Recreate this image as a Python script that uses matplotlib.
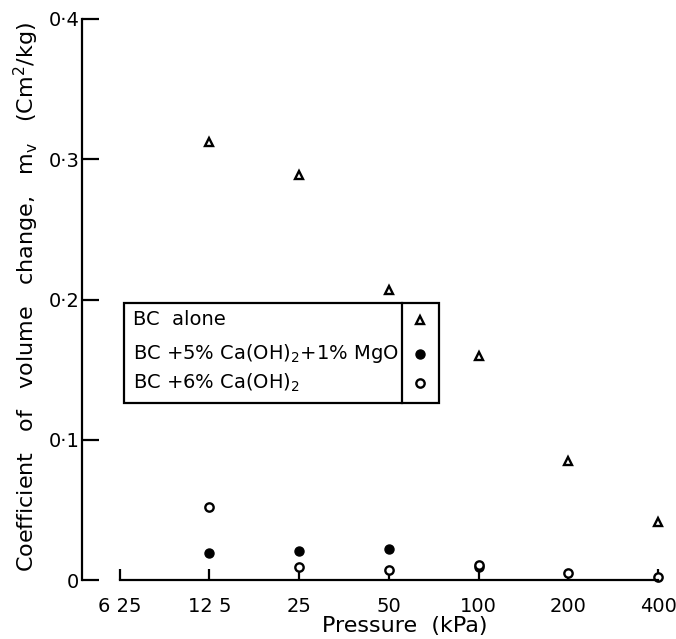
#! /usr/bin/env python3

import matplotlib
matplotlib.use('Agg')
from matplotlib import pyplot as plt
from matplotlib.patches import Rectangle

# pressure steps (kPa), plotted at equal spacing (doubling scale)
pressures = [6.25, 12.5, 25, 50, 100, 200, 400]
tick_labels = ['6 25', '12 5', '25', '50', '100', '200', '400']

# coefficient of volume change (cm^2/kg)
bc_x = [12.5, 25, 50, 100, 200, 400]
bc_alone = [0.312, 0.289, 0.207, 0.160, 0.085, 0.041]

lime_mgo_x = [12.5, 25, 50, 100]
lime_mgo = [0.019, 0.021, 0.022, 0.009]

lime_x = [12.5, 25, 50, 100, 200, 400]
lime = [0.052, 0.009, 0.007, 0.011, 0.005, 0.002]

legend_labels = ['BC  alone',
                 r'BC +5% Ca(OH)$_\mathregular{2}$+1% MgO',
                 r'BC +6% Ca(OH)$_\mathregular{2}$']

plt.rcParams['font.family'] = ['DejaVu Sans']
plt.rcParams['font.size'] = 14

fig = plt.figure(figsize=(6.76, 6.39), dpi=100)
W, H = 676, 639
ax = fig.add_axes([82 / W, 1 - 580 / H, 585 / W, 561 / H])


def pos(vals):
    return [pressures.index(v) for v in vals]


ax.plot(pos(bc_x), bc_alone, ls='none', marker='^', ms=6, mfc='white',
        mec='black', mew=1.7, clip_on=False)
ax.plot(pos(lime_mgo_x), lime_mgo, ls='none', marker='o', ms=6.5,
        color='black', clip_on=False)
ax.plot(pos(lime_x), lime, ls='none', marker='o', ms=6, mfc='white',
        mec='black', mew=1.7, clip_on=False)

ax.set_xlim(-0.42, 6.1)
ax.set_ylim(0, 0.4)

ax.set_xticks(range(len(pressures)))
ax.set_xticklabels(tick_labels)
ax.set_yticks([0, 0.1, 0.2, 0.3, 0.4])
ax.set_yticklabels(['0', '0·1', '0·2', '0·3', '0·4'])

ax.spines['top'].set_visible(False)
ax.spines['right'].set_visible(False)
ax.spines['bottom'].set_bounds(0, 6)
ax.spines['left'].set_linewidth(1.6)
ax.spines['bottom'].set_linewidth(1.6)
ax.tick_params(axis='y', direction='in', length=12, width=1.6, pad=2)
ax.tick_params(axis='x', direction='in', length=8, width=1.6, pad=12)

ax.set_xlabel('Pressure  (kPa)', fontsize=16, labelpad=0, x=0.552)
ax.set_ylabel(r'Coefficient   of   volume   change,   m$_\mathregular{v}$   '
              r'(Cm$^\mathregular{2}$/kg)', fontsize=16, labelpad=5, y=0.505)

# boxed legend with the marker column on the right
box_l, box_r, box_sep = 0.0718, 0.610, 0.547
box_b, box_t = 0.3155, 0.494
ax.add_patch(Rectangle((box_l, box_b), box_r - box_l, box_t - box_b,
                       transform=ax.transAxes, fill=False, lw=1.6,
                       clip_on=False))
ax.plot([box_sep, box_sep], [box_b, box_t], transform=ax.transAxes,
        color='black', lw=1.6, clip_on=False)
rows = [0.4635, 0.403, 0.351]
styles = [dict(marker='^', mfc='white', mew=1.7, ms=6),
          dict(marker='o', mfc='black', ms=6.5),
          dict(marker='o', mfc='white', mew=1.7, ms=6)]
for ry, lab, st in zip(rows, legend_labels, styles):
    ax.text(0.087, ry, lab, transform=ax.transAxes, va='center', ha='left')
    ax.plot([0.578], [ry], transform=ax.transAxes, ls='none', mec='black',
            clip_on=False, **st)

fig.savefig('out.png', dpi=100)
